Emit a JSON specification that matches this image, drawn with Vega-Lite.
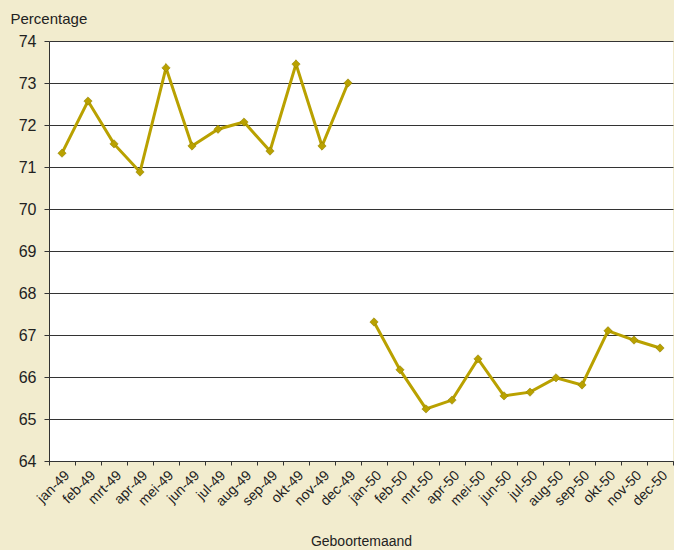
{
  "$schema": "https://vega.github.io/schema/vega-lite/v6.json",
  "width": 624,
  "height": 420,
  "autosize": {"type": "none"},
  "padding": {"left": 49, "top": 41, "right": 1, "bottom": 89},
  "background": "#f2ecce",
  "config": {
    "view": {"fill": "#ffffff", "stroke": null},
    "font": "Liberation Sans",
    "axis": {"labelFont": "Liberation Sans", "titleFont": "Liberation Sans", "labelColor": "#222222", "titleColor": "#222222", "titleFontWeight": "normal"}
  },
  "data": {"values": [
    {"maand": "jan-49", "jaar": "1949", "pct": 71.33},
    {"maand": "feb-49", "jaar": "1949", "pct": 72.57},
    {"maand": "mrt-49", "jaar": "1949", "pct": 71.55},
    {"maand": "apr-49", "jaar": "1949", "pct": 70.88},
    {"maand": "mei-49", "jaar": "1949", "pct": 73.36},
    {"maand": "jun-49", "jaar": "1949", "pct": 71.5},
    {"maand": "jul-49", "jaar": "1949", "pct": 71.9},
    {"maand": "aug-49", "jaar": "1949", "pct": 72.07},
    {"maand": "sep-49", "jaar": "1949", "pct": 71.38},
    {"maand": "okt-49", "jaar": "1949", "pct": 73.45},
    {"maand": "nov-49", "jaar": "1949", "pct": 71.5},
    {"maand": "dec-49", "jaar": "1949", "pct": 73.0},
    {"maand": "jan-50", "jaar": "1950", "pct": 67.31},
    {"maand": "feb-50", "jaar": "1950", "pct": 66.17},
    {"maand": "mrt-50", "jaar": "1950", "pct": 65.24},
    {"maand": "apr-50", "jaar": "1950", "pct": 65.45},
    {"maand": "mei-50", "jaar": "1950", "pct": 66.43},
    {"maand": "jun-50", "jaar": "1950", "pct": 65.55},
    {"maand": "jul-50", "jaar": "1950", "pct": 65.64},
    {"maand": "aug-50", "jaar": "1950", "pct": 65.98},
    {"maand": "sep-50", "jaar": "1950", "pct": 65.81},
    {"maand": "okt-50", "jaar": "1950", "pct": 67.1},
    {"maand": "nov-50", "jaar": "1950", "pct": 66.88},
    {"maand": "dec-50", "jaar": "1950", "pct": 66.69}
  ]},
  "encoding": {
    "x": {
      "field": "maand", "type": "ordinal", "sort": null,
      "scale": {"paddingInner": 0, "paddingOuter": 0},
      "axis": {
        "title": "Geboortemaand", "titleFontSize": 14, "titleY": 84, "titleBaseline": "alphabetic",
        "labelAngle": -45, "labelAlign": "right", "labelBaseline": "top", "labelFontSize": 14,
        "labelPadding": 3, "labelOverlap": false,
        "tickBand": "extent", "tickColor": "#333333", "tickSize": 4,
        "domainColor": "#333333", "grid": false
      }
    },
    "y": {
      "field": "pct", "type": "quantitative",
      "scale": {"domain": [64, 74], "nice": false, "zero": false},
      "axis": {
        "title": "Percentage", "titleAngle": 0, "titleAlign": "left", "titleBaseline": "alphabetic",
        "titleX": -39, "titleY": -18, "titleFontSize": 15,
        "values": [64,65,66,67,68,69,70,71,72,73,74], "labelOverlap": false,
        "labelFontSize": 16, "labelPadding": 8,
        "tickColor": "#333333", "tickSize": 5,
        "domainColor": "#333333",
        "grid": true, "gridColor": "#333333", "gridWidth": 1, "gridOpacity": 1
      }
    },
    "detail": {"field": "jaar"}
  },
  "layer": [
    {"mark": {"type": "line", "color": "#b9a100", "strokeWidth": 3}},
    {"mark": {"type": "point", "shape": "diamond", "filled": true, "color": "#b9a100", "size": 70, "opacity": 1, "stroke": "#8a7a00", "strokeWidth": 0.5}}
  ]
}
